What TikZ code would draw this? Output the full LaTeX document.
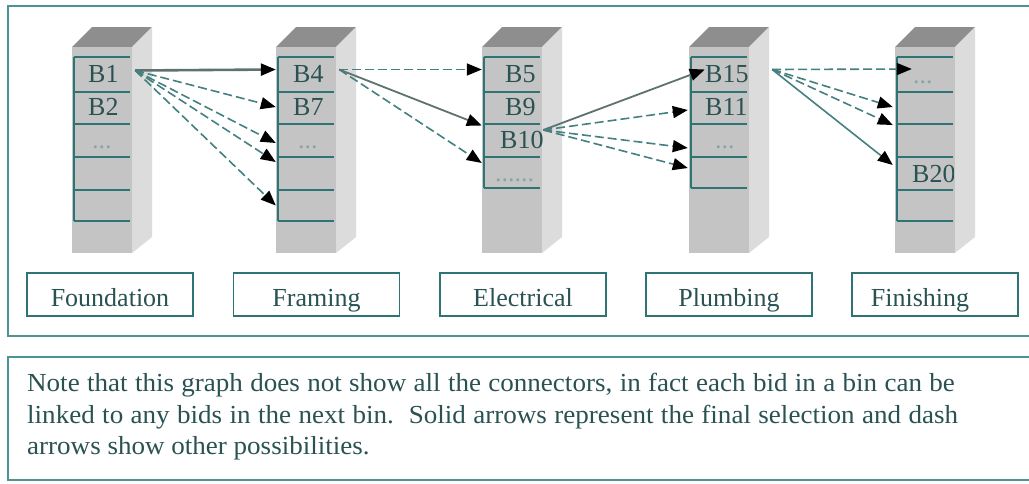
\documentclass[tikz,border=0pt]{standalone}
\usepackage{fontspec}
\setmainfont{Liberation Serif}
\usetikzlibrary{arrows.meta,calc}
\definecolor{framec}{HTML}{4A9494}
\definecolor{cellline}{HTML}{2F7474}
\definecolor{txtc}{HTML}{2A5252}
\definecolor{dotc}{HTML}{8AA4A4}
\definecolor{topc}{HTML}{8E8E8E}
\definecolor{frontc}{HTML}{C4C4C4}
\definecolor{sidec}{HTML}{DCDCDC}
\definecolor{altc}{HTML}{458080}
\definecolor{selc}{HTML}{5F7272}
\tikzset{
  cellnode/.style={inner sep=0pt, minimum width=56pt},
  celltxt/.style={anchor=base west, inner sep=0pt, text=txtc, font=\fontsize{26}{30}\selectfont},
  celldots/.style={celltxt, text=dotc},
  labelbox/.style={draw=cellline, line width=1.6pt, minimum width=166pt, minimum height=43pt,
    inner sep=0pt, text height=25pt, text depth=1pt, text=txtc, font=\fontsize{26}{30}\selectfont},
  notetxt/.style={anchor=base west, inner sep=0pt, text=txtc, font=\fontsize{26}{30}\selectfont},
  tipc/.tip={Triangle[length=15pt,width=12pt,color=black]},
  sel/.style={draw=selc, line width=2.6pt, -tipc},
  selthin/.style={draw=altc, line width=1.6pt, -tipc},
  alt/.style={draw=altc, line width=1.6pt, dash pattern=on 9pt off 4pt, -tipc},
}
\begin{document}
\begin{tikzpicture}[x=1pt,y=-1pt]
\useasboundingbox (0,0) rectangle (1029,483);
\clip (0,0) rectangle (1029,483);
\fill[white] (0,0) rectangle (1029,483);
% frames
\draw[framec, line width=2pt] (8,6) rectangle (1045,336);
\draw[framec, line width=2pt] (8,357) rectangle (1045,480);
% bins
\foreach \F in {72,276,482,689,895}{
  \fill[topc] (\F,47) -- (\F+60,47) -- (\F+80,27) -- (\F+20,27) -- cycle;
  \fill[sidec] (\F+60,47) -- (\F+80,27) -- (\F+80,237) -- (\F+60,253) -- cycle;
  \fill[frontc] (\F,47) rectangle (\F+60,253);
}
% cells of 5-row bins
\foreach \F/\n in {72/1,276/2,895/5}{
  \foreach \t/\b/\r in {57/92/1,92/124/2,124/157/3,157/190/4,190/221/5}{
    \node[cellnode, minimum height={(\b-\t)*1pt}] (c\n r\r) at (\F+30,{(\t+\b)/2}) {};
    \draw[cellline, line width=1.6pt] (c\n r\r.north west) -- (c\n r\r.north east);
  }
  \draw[cellline, line width=1.6pt] (c\n r5.south west) -- (c\n r5.south east);
  \draw[cellline, line width=1.6pt] (c\n r1.north west) -- (c\n r5.south west);
}
% cells of 4-row bins
\foreach \F/\n in {482/3,689/4}{
  \foreach \t/\b/\r in {57/92/1,92/124/2,124/157/3,157/188/4}{
    \node[cellnode, minimum height={(\b-\t)*1pt}] (c\n r\r) at (\F+30,{(\t+\b)/2}) {};
    \draw[cellline, line width=1.6pt] (c\n r\r.north west) -- (c\n r\r.north east);
  }
  \draw[cellline, line width=1.6pt] (c\n r4.south west) -- (c\n r4.south east);
  \draw[cellline, line width=1.6pt] (c\n r1.north west) -- (c\n r4.south west);
}
% cell texts
\node[celltxt] (b1) at (88,82) {B1};
\node[celltxt] (b2) at (88,115) {B2};
\node[celldots] (d1) at (92,148) {...};
\node[celltxt] (b4) at (293,82) {B4};
\node[celltxt] (b7) at (293,115) {B7};
\node[celldots] (d2) at (298,148) {...};
\begin{scope}
  \clip (482,47) rectangle (542,253);
  \node[celltxt] (b5) at (505,82) {B5};
  \node[celltxt] (b9) at (505,115) {B9};
  \node[celltxt] (b10) at (500,148) {B10};
  \node[celldots] (d3) at (495,181) {......};
\end{scope}
\begin{scope}
  \clip (689,47) rectangle (747,253);
  \node[celltxt] (b15) at (705,82) {B15};
  \node[celltxt] (b11) at (705,115) {B11};
  \node[celldots] (d4) at (715,148) {...};
\end{scope}
\begin{scope}
  \clip (895,47) rectangle (953,253);
  \node[celldots] (d5) at (913,83) {...};
  \node[celltxt] (b20) at (912,182) {B20};
\end{scope}
% source points
\coordinate (s1) at ($(c1r1.east)+(5,-4)$);
\coordinate (s2) at ($(c2r1.east)+(5,-5)$);
\coordinate (s3) at ($(c3r3.east)+(3,-10.5)$);
\coordinate (s4) at ($(c4r1.east)+(25,-5)$);
% connectors bin 1 -> bin 2
\draw[sel] (s1) -- ($(c2r1.west)+(-2,-5)$);
\draw[alt] (s1) -- ($(c2r2.west)+(-2,-1)$);
\draw[alt] (s1) -- ($(c2r3.west)+(-2,2.5)$);
\draw[alt] (s1) -- ($(c2r4.west)+(-2,-11.5)$);
\draw[alt] (s1) -- ($(c2r5.west)+(-2,0)$);
% bin 2 -> bin 3
\draw[alt] (s2) -- ($(c3r1.west)+(-2,-5)$);
\draw[sel, line width=1.8pt] (s2) -- ($(c3r3.west)+(-2,-15)$);
\draw[alt] (s2) -- ($(c3r4.west)+(-2,-9.5)$);
% bin 3 -> bin 4
\draw[sel, line width=1.8pt] (s3) -- ($(c4r1.west)+(14,-5)$);
\draw[alt] (s3) -- ($(c4r2.west)+(-3,2)$);
\draw[alt] (s3) -- ($(c4r3.west)+(-3,7.5)$);
\draw[alt] (s3) -- ($(c4r4.west)+(-3,-4.5)$);
% bin 4 -> bin 5
\draw[alt] (s4) -- ($(c5r1.west)+(15,-5.5)$);
\draw[alt] (s4) -- ($(c5r2.west)+(-4,-1)$);
\draw[alt] (s4) -- ($(c5r3.west)+(-4,-15.5)$);
\draw[selthin] (s4) -- ($(c5r4.west)+(-4,-8.5)$);
% labels
\node[labelbox] (foundation) at (110,294.5) {Foundation};
\node[labelbox] (framing) at (316.5,294.5) {Framing};
\node[labelbox] (electrical) at (523,294.5) {Electrical};
\node[labelbox] (plumbing) at (729,294.5) {Plumbing};
\node[labelbox] (finishing) at (935,294.5) {\hspace*{-30pt}Finishing};
% note
\node[notetxt] (note1) at (27,391) {\scalebox{1.04}[1]{\makebox[892pt][s]{Note that this graph does not show all the connectors, in fact each bid in a bin can be}}};
\node[notetxt] (note2) at (27,423) {\scalebox{1.04}[1]{\makebox[895pt][s]{linked to any bids in the next bin.\ \ Solid arrows represent the final selection and dash}}};
\node[notetxt] (note3) at (27,454) {\scalebox{1.04}[1]{arrows show other possibilities.}};
\end{tikzpicture}
\end{document}
